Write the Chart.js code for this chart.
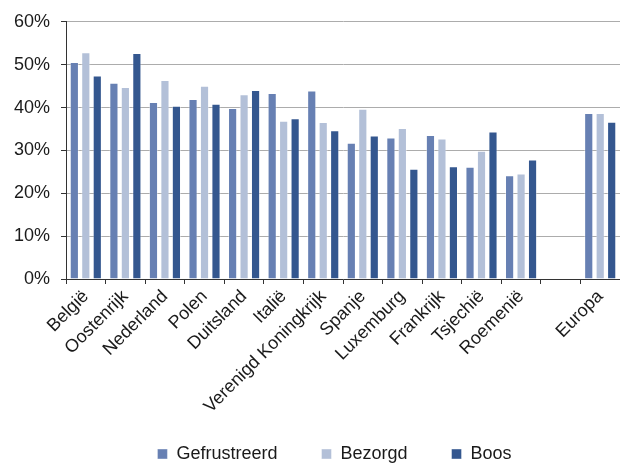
<!DOCTYPE html>
<html>
<head>
<meta charset="utf-8">
<script src="https://cdn.jsdelivr.net/npm/chart.js@4/dist/chart.umd.min.js"></script>
<style>
  html, body { margin: 0; padding: 0; background: #fff; }
  #wrap { width: 620px; height: 464px; position: relative; }
</style>
</head>
<body>
<div id="wrap"><canvas id="c"></canvas></div>
<script>
// Landen (lege categorie als scheiding vóór Europa)
const landen = ['België', 'Oostenrijk', 'Nederland', 'Polen', 'Duitsland', 'Italië',
  'Verenigd Koningkrijk', 'Spanje', 'Luxemburg', 'Frankrijk', 'Tsjechië', 'Roemenië', '', 'Europa'];

// Percentages per gevoel
const gefrustreerd = [50.6, 45.8, 41.3, 42.0, 39.9, 43.4, 44.0, 31.8, 33.0, 33.6, 26.2, 24.2, null, 38.7];
const bezorgd      = [52.9, 44.8, 46.4, 45.1, 43.1, 36.9, 36.6, 39.7, 35.2, 32.8, 29.9, 24.6, null, 38.7];
const boos         = [47.5, 52.7, 40.4, 40.9, 44.1, 37.5, 34.7, 33.5, 25.7, 26.3, 34.4, 27.9, null, 36.7];

const yTicks = [0, 10, 20, 30, 40, 50, 60];

const FONT = "'Liberation Sans', Arial, sans-serif";

// Vergroot het legendavak naar boven en schuift het iets naar rechts,
// zodat de items (die op top + padding staan) onderaan blijven
const legendNudge = {
  id: 'legendNudge',
  afterLayout(chart) {
    const lg = chart.legend;
    if (!lg) return;
    const dx = 23, dy = -17;
    lg.left += dx; lg.right += dx;
    lg.top += dy;
  }
};

function serie(label, data, kleur) {
  return {
    label, data,
    backgroundColor: kleur,
    borderColor: 'rgba(255,255,255,0.4)',
    borderWidth: 1,
    categoryPercentage: 0.87,
    barPercentage: 0.8
  };
}

new Chart(document.getElementById('c'), {
  type: 'bar',
  data: {
    labels: landen,
    datasets: [
      serie('Gefrustreerd', gefrustreerd, '#6780b3'),
      serie('Bezorgd', bezorgd, '#b3c0d8'),
      serie('Boos', boos, '#34578f')
    ]
  },
  options: {
    responsive: true,
    maintainAspectRatio: false,
    animation: false,
    layout: { padding: { top: 15, left: 3, right: 0, bottom: 0 } },
    plugins: {
      tooltip: { enabled: false },
      legend: {
        position: 'bottom',
        maxHeight: 46,
        labels: {
          boxWidth: 10,
          boxHeight: 10,
          padding: 44,
          color: '#1a1a1a',
          font: { family: FONT, size: 18 }
        }
      }
    },
    scales: {
      x: {
        grid: {
          offset: true,
          drawOnChartArea: false,
          drawTicks: true,
          tickLength: 5,
          tickColor: '#333'
        },
        border: { color: '#333', width: 1 },
        ticks: {
          autoSkip: false,
          minRotation: 45,
          maxRotation: 45,
          padding: 2,
          color: '#1a1a1a',
          font: { family: FONT, size: 18 }
        },
        afterFit(scale) { scale.height = 139; }
      },
      y: {
        min: 0,
        max: 60,
        afterBuildTicks(scale) { scale.ticks = yTicks.map(v => ({ value: v })); },
        grid: {
          color: '#acacac',
          lineWidth: 1,
          tickLength: 5,
          tickColor: '#333'
        },
        border: { color: '#333', width: 1 },
        ticks: {
          padding: 11,
          color: '#1a1a1a',
          font: { family: FONT, size: 18 },
          callback: v => v + '%'
        }
      }
    }
  },
  plugins: [legendNudge]
});
</script>
</body>
</html>
